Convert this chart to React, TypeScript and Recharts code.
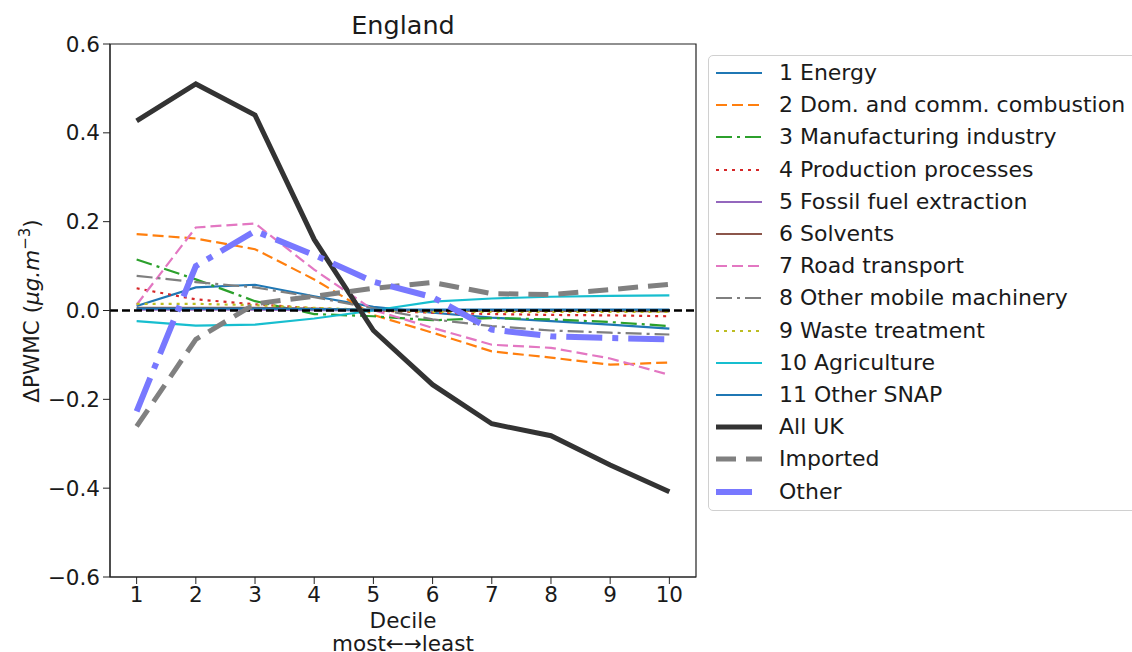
import React from 'react';
import {
  LineChart,
  Line,
  XAxis,
  YAxis,
  Legend,
  ReferenceLine,
  ReferenceArea
} from 'recharts';

// deciles, most -> least deprived
const deciles = [1, 2, 3, 4, 5, 6, 7, 8, 9, 10];

const energy = [0.010, 0.052, 0.058, 0.032, 0.008, -0.005, -0.016, -0.024, -0.032, -0.041];
const domComm = [0.172, 0.162, 0.138, 0.07, -0.01, -0.05, -0.092, -0.106, -0.122, -0.117];
const manufacturing = [0.115, 0.07, 0.021, -0.008, -0.013, -0.022, -0.017, -0.02, -0.026, -0.035];
const production = [0.05, 0.025, 0.014, 0.005, 0.0, -0.005, -0.008, -0.01, -0.011, -0.013];
const fossil = [0.002, 0.002, 0.002, 0.001, 0.0, 0.0, 0.0, 0.0, 0.0, 0.0];
const solvents = [0.006, 0.006, 0.006, 0.004, 0.001, 0.0, -0.001, -0.001, -0.001, -0.002];
const road = [0.013, 0.187, 0.196, 0.092, 0.001, -0.039, -0.077, -0.084, -0.108, -0.145];
const mobile = [0.078, 0.064, 0.052, 0.03, 0.005, -0.02, -0.035, -0.045, -0.05, -0.054];
const waste = [0.015, 0.015, 0.012, 0.006, 0.001, -0.003, -0.003, -0.003, -0.003, -0.003];
const agriculture = [-0.024, -0.034, -0.032, -0.018, 0.0, 0.02, 0.027, 0.031, 0.033, 0.034];
const otherSnap = [0.004, 0.004, 0.004, 0.003, 0.002, 0.002, 0.002, 0.002, 0.002, 0.002];
const allUk = [0.427, 0.51, 0.44, 0.16, -0.045, -0.167, -0.255, -0.282, -0.348, -0.408];
const imported = [-0.261, -0.065, 0.015, 0.032, 0.05, 0.063, 0.038, 0.036, 0.047, 0.059];
const other = [-0.227, 0.1, 0.179, 0.125, 0.065, 0.03, -0.043, -0.058, -0.062, -0.065];

const yTicks = [-0.6, -0.4, -0.2, 0, 0.2, 0.4, 0.6];
const xDomain = [0.55, 10.45];
const yDomain = [-0.6, 0.6];

const FONT = 'DejaVu Sans';

const SERIES = [
  { key: 'energy', name: '1 Energy', values: energy, color: '#1f77b4', width: 2.2 },
  { key: 'domComm', name: '2 Dom. and comm. combustion', values: domComm, color: '#ff7f0e', width: 2.2, dash: '11 5' },
  { key: 'manufacturing', name: '3 Manufacturing industry', values: manufacturing, color: '#2ca02c', width: 2.2, dash: '16 5 3 5' },
  { key: 'production', name: '4 Production processes', values: production, color: '#d62728', width: 2.2, dash: '3 5' },
  { key: 'fossil', name: '5 Fossil fuel extraction', values: fossil, color: '#9467bd', width: 2.2 },
  { key: 'solvents', name: '6 Solvents', values: solvents, color: '#8c564b', width: 2.2 },
  { key: 'road', name: '7 Road transport', values: road, color: '#e377c2', width: 2.2, dash: '11 5' },
  { key: 'mobile', name: '8 Other mobile machinery', values: mobile, color: '#7f7f7f', width: 2.2, dash: '16 5 3 5' },
  { key: 'waste', name: '9 Waste treatment', values: waste, color: '#bcbd22', width: 2.2, dash: '3 5' },
  { key: 'agriculture', name: '10 Agriculture', values: agriculture, color: '#17becf', width: 2.2 },
  { key: 'otherSnap', name: '11 Other SNAP', values: otherSnap, color: '#1f77b4', width: 2.2 },
  { key: 'allUk', name: 'All UK', values: allUk, color: '#333333', width: 5 },
  { key: 'imported', name: 'Imported', values: imported, color: '#808080', width: 5, dash: '20 10' },
  { key: 'other', name: 'Other', values: other, color: '#7878ff', width: 6, dash: '36 10 6 10' }
];

const chartData = deciles.map((d, i) => {
  const row: Record<string, number> = { decile: d };
  SERIES.forEach(s => {
    row[s.key] = s.values[i];
  });
  return row;
});

const fmtY = (v: number) => (v < 0 ? '\u2212' : '') + Math.abs(v).toFixed(1);

const renderLegend = () => (
  <div
    style={{
      border: '1px solid #d0d0d0',
      borderRadius: 5,
      background: 'rgba(255,255,255,0.85)',
      paddingTop: 1,
      height: 456,
      boxSizing: 'border-box',
      fontFamily: FONT,
      fontSize: 22,
      color: '#1a1a1a'
    }}
  >
    {SERIES.map(s => (
      <div key={s.key} style={{ display: 'flex', alignItems: 'center', height: 32.2 }}>
        <svg width={56} height={20} style={{ flex: 'none' }}>
          <line
            x1={7}
            y1={10}
            x2={53}
            y2={10}
            stroke={s.color}
            strokeWidth={s.width}
            strokeDasharray={s.dash}
          />
        </svg>
        <span style={{ marginLeft: 14, whiteSpace: 'nowrap', lineHeight: '32px' }}>{s.name}</span>
      </div>
    ))}
  </div>
);

const TitleLabel = () => (
  <text x={403} y={34} textAnchor="middle" fontFamily={FONT} fontSize={25.5} fill="#1a1a1a">
    England
  </text>
);

const XLabel = () => (
  <g fontFamily={FONT} fontSize={21.5} fill="#1a1a1a">
    <text x={403} y={628} textAnchor="middle">Decile</text>
    <text x={403} y={651} textAnchor="middle">most←→least</text>
  </g>
);

const YLabel = () => (
  <text
    x={39}
    y={311}
    transform="rotate(-90, 39, 311)"
    textAnchor="middle"
    fontFamily={FONT}
    fontSize={21.5}
    fill="#1a1a1a"
  >
    ΔPWMC (<tspan fontStyle="italic">μg.m</tspan>
    <tspan dy={-9} fontSize={15}>−3</tspan>
    <tspan dy={9}>)</tspan>
  </text>
);

const tickStyle = { fill: '#1a1a1a', fontSize: 21.5, fontFamily: FONT };

const renderLine = (s: typeof SERIES[number]) => (
  <Line
    key={s.key}
    dataKey={s.key}
    name={s.name}
    type="linear"
    stroke={s.color}
    strokeWidth={s.width}
    strokeDasharray={s.dash}
    dot={false}
    activeDot={false}
    isAnimationActive={false}
  />
);

export default function App() {
  return (
    <div
      style={{
        position: 'absolute',
        left: 0,
        top: 0,
        width: 1132,
        height: 652,
        overflow: 'hidden',
        background: '#fff'
      }}
    >
      <LineChart
        width={1132}
        height={652}
        data={chartData}
        margin={{ top: 44, right: 436, bottom: 0, left: 0 }}
      >
        <XAxis
          dataKey="decile"
          type="number"
          domain={xDomain}
          ticks={deciles}
          allowDataOverflow
          height={75}
          tickSize={7}
          tickMargin={3}
          tick={tickStyle}
          stroke="#222"
          label={{ content: XLabel }}
        />
        <YAxis
          type="number"
          domain={yDomain}
          ticks={yTicks}
          allowDataOverflow
          width={110}
          tickSize={7}
          tickMargin={3}
          tick={tickStyle}
          tickFormatter={fmtY}
          stroke="#222"
          label={{ content: YLabel }}
        />
        {/* axes frame + title */}
        <ReferenceArea
          x1={xDomain[0]}
          x2={xDomain[1]}
          y1={yDomain[0]}
          y2={yDomain[1]}
          fill="none"
          stroke="#222"
          strokeWidth={1.2}
          label={{ content: TitleLabel }}
        />
        {SERIES.slice(0, 11).map(renderLine)}
        <ReferenceLine y={0} stroke="#000" strokeWidth={2.5} strokeDasharray="8 4" />
        {SERIES.slice(11).map(renderLine)}
        <Legend
          layout="vertical"
          align="center"
          verticalAlign="middle"
          content={renderLegend}
          wrapperStyle={{ left: 708, top: 55, width: 440 }}
        />
      </LineChart>
    </div>
  );
}
